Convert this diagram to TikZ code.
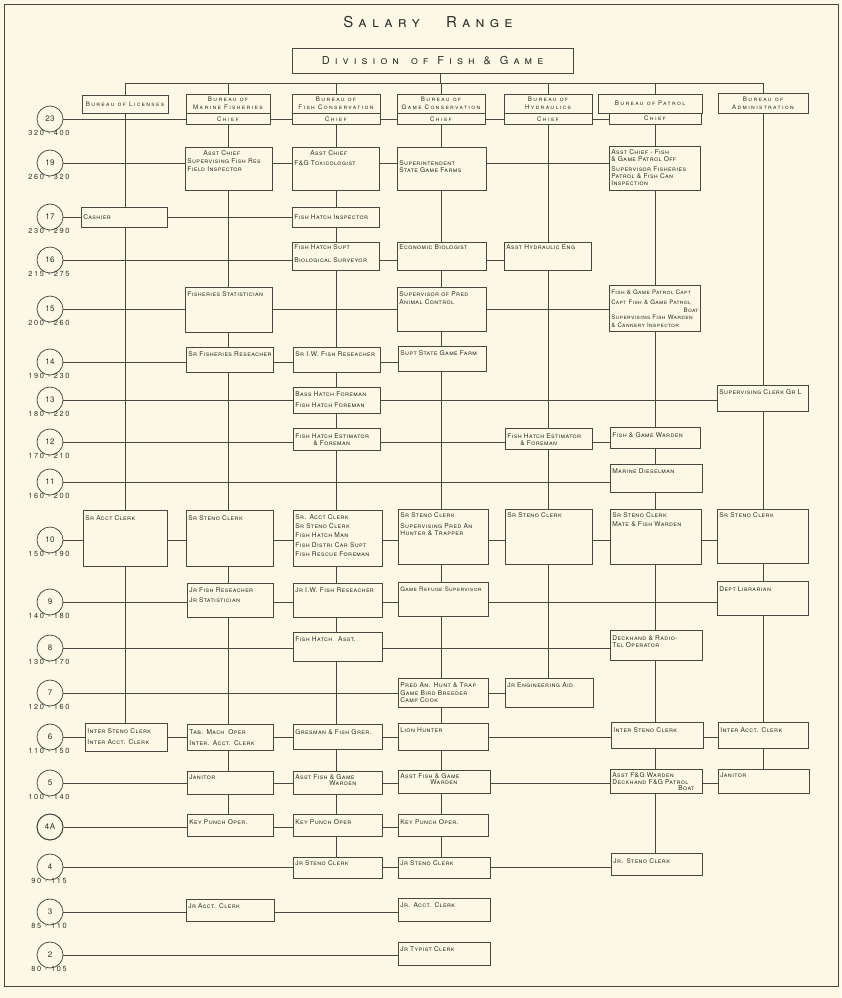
\documentclass[tikz,border=0pt]{standalone}
\usepackage{fontspec}
\setmainfont[LetterSpace=6]{TeX Gyre Heros}
\newfontfamily\headfont[LetterSpace=35]{TeX Gyre Heros}
\newfontfamily\divfont[LetterSpace=46]{TeX Gyre Heros}
\newfontfamily\burfont[LetterSpace=22]{TeX Gyre Heros}
\usetikzlibrary{positioning}

\definecolor{paper}{RGB}{251,249,229}
\definecolor{ink}{RGB}{72,72,64}
\definecolor{pencil}{RGB}{48,48,42}

\pgfdeclarelayer{sheet}
\pgfdeclarelayer{wires}
\pgfsetlayers{sheet,wires,main}

\tikzset{
  headline/.style={text=pencil, inner sep=0pt, font=\headfont\fontsize{15}{17}\selectfont\scshape},
  grade/.style={circle, draw=ink, line width=0.75pt, fill=paper, text=pencil,
    minimum size=26pt, inner sep=0pt, font=\fontsize{8}{9}\selectfont},
  rangetag/.style={text=pencil, inner sep=0pt, font=\burfont\fontsize{7.4}{8}\selectfont},
  bureau/.style={draw=ink, line width=0.7pt, fill=paper, text=pencil, align=center,
    inner sep=0pt, font=\burfont\fontsize{6.2}{7.8}\selectfont\scshape},
  job/.style={draw=ink, line width=0.7pt, fill=paper, text=pencil, align=left,
    inner xsep=2pt, inner ysep=0pt, font=\fontsize{6.6}{7}\selectfont\scshape},
  wire/.style={draw=ink, line width=0.5pt},
}

\begin{document}
\begin{tikzpicture}[x=1pt,y=-1pt]
  \useasboundingbox (0,0) rectangle (841,998);

  % title and division
  \node[headline] (title) at (428,22) {Salary\hspace{26pt}Range};
  \node[bureau, font=\divfont\fontsize{11}{12}\selectfont\scshape,
        minimum width=281pt, minimum height=25pt] (div) at (432.5,60.5)
        {Division\hspace{12pt}of\hspace{9pt}Fish\hspace{9pt}\&\hspace{9pt}Game};

  % bureaus
  \node[bureau, minimum width=86pt, minimum height=18pt] (lic) at (125,104) {Bureau of Licenses};
  \node[bureau, minimum width=84pt, minimum height=19pt] (mfb) at (228,103.5) {Bureau of\\Marine Fisheries};
  \node[bureau, minimum width=88pt, minimum height=19pt] (fcb) at (336,103.5) {Bureau of\\Fish Conservation};
  \node[bureau, minimum width=88pt, minimum height=19pt] (gcb) at (441,103.5) {Bureau of\\Game Conservation};
  \node[bureau, minimum width=88pt, minimum height=19pt] (hyb) at (548,103.5) {Bureau of\\Hydraulics};
  \node[bureau, minimum width=104pt, minimum height=19pt] (pab) at (650,103.5) {Bureau of Patrol};
  \node[bureau, minimum width=90pt, minimum height=20pt] (adm) at (763,103) {Bureau of\\Administration};

  \node[bureau, minimum width=84pt, minimum height=11pt, below=0pt of mfb] (mfc) {Chief};
  \node[bureau, minimum width=88pt, minimum height=11pt, below=0pt of fcb] (fcc) {Chief};
  \node[bureau, minimum width=88pt, minimum height=11pt, below=0pt of gcb] (gcc) {Chief};
  \node[bureau, minimum width=88pt, minimum height=11pt, below=0pt of hyb] (hyc) {Chief};
  \node[bureau, minimum width=92pt, minimum height=11pt] (pac) at (655,118.5) {Chief};

  % salary grades
  \foreach \g/\gy/\rng in {23/119/320 - 400, 19/163/260 - 320, 17/217/230 - 290,
      16/260/215 - 275, 15/309/200 - 260, 14/362/190 - 230, 13/400/180 - 220,
      12/442/170 - 210, 11/482/160 - 200, 10/540/150 - 190, 9/602/140 - 180,
      8/648/130 - 170, 7/693/120 - 160, 6/737/110 - 150, 5/783/100 - 140,
      4/867/90 - 115, 3/912/85 - 110, 2/955/80 - 105} {
    \node[grade] (g\g) at (50,\gy) {\g};
    \node[rangetag] (r\g) at (49,\gy+14) {\rng};
  }
  \node[grade, line width=1.1pt] (g4A) at (50,827) {4A};

  % positions: name/left/top/right/bottom/first baseline/text
  \foreach \nm/\xa/\ya/\xb/\yb/\ofs/\txt in {
      mf19/185/147/272/190/8.5/{\hspace*{16pt}Asst Chief\\[1pt]Supervising Fish Res\\[1pt]Field Inspector},
      fc19/292/147/379/190/8.5/{\hspace*{16pt}Asst Chief\\[3pt]F\&G Toxicologist},
      gc19/397/147/486/190/18.5/{Superintendent\\State Game Farms},
      pa19/609/146/700/190/8.5/{Asst Chief - Fish\\\& Game Patrol Off\\[3pt]Supervisor Fisheries\\Patrol \& Fish Can\\Inspection},
      li17/81/207/167/227/12.5/{Cashier},
      fc17/292/207/379/227/12.5/{Fish Hatch Inspector},
      fc16/292/242/379/270/7.5/{Fish Hatch Supt\\[5.5pt]Biological Surveyor},
      gc16/397/242/486/270/7.5/{Economic Biologist},
      hy16/504/242/591/270/7.5/{Asst Hydraulic Eng},
      mf15/185/287/272/332/8.8/{Fisheries Statistician},
      gc15/397/287/486/331/8.8/{Supervisor of Pred\\[1pt]Animal Control},
      pa15/609/285/700/331/9/{\fontsize{6.1}{7}\selectfont Fish \& Game Patrol Capt\\[3pt]Capt Fish \& Game Patrol\\[1pt]\mbox{}\hfill Boat\hspace*{12pt}\\Supervising Fish Warden\\[1pt]\& Cannery Inspector},
      mf14/186/347/273/372/9.5/{Sr Fisheries Reseacher},
      fc14/293/347/380/372/9.5/{Sr I.W. Fish Reseacher},
      gc14/398/346/486/371/9/{Supt State Game Farm},
      fc13/293/387/380/413/9.5/{Bass Hatch Foreman\\[4pt]Fish Hatch Foreman},
      ad13/717/385/808/411/9.5/{Supervising Clerk Gr L},
      fc12/293/428/380/450/10.5/{Fish Hatch Estimator\\\hspace*{18pt}\& Foreman},
      hy12/505/428/592/449/10.5/{Fish Hatch Estimator\\\hspace*{13pt}\& Foreman},
      pa12/610/427/700/448/10.5/{Fish \& Game Warden},
      pa11/610/464/702/492/9.5/{Marine Dieselman},
      li10/83/510/167/566/10/{Sr Acct Clerk},
      mf10/186/510/273/566/10/{Sr Steno Clerk},
      fc10/293/510/382/566/9/{Sr. Acct Clerk\\[2.3pt]Sr Steno Clerk\\[2.3pt]Fish Hatch Man\\[2.3pt]Fish Distri Car Supt\\[2.3pt]Fish Rescue Foreman},
      gc10/398/509/488/564/8.5/{Sr Steno Clerk\\[4pt]Supervising Pred An\\Hunter \& Trapper},
      hy10/505/509/592/564/8.5/{Sr Steno Clerk},
      pa10/610/509/701/564/8.5/{Sr Steno Clerk\\[2pt]Mate \& Fish Warden},
      ad10/717/509/808/563/8.5/{Sr Steno Clerk},
      mf9/187/583/273/617/9.5/{Jr Fish Reseacher\\[3pt]Jr Statistician},
      fc9/293/583/382/617/9.5/{Jr I.W. Fish Reseacher},
      gc9/398/582/488/616/9.5/{\fontsize{6.1}{7}\selectfont Game Refuge Supervisor},
      ad9/717/581/808/615/10/{Dept Librarian},
      fc8/293/632/382/661/9.5/{Fish Hatch\hspace{6pt}Asst.},
      pa8/610/630/702/660/10.5/{Deckhand \& Radio-\\Tel Operator},
      gc7/398/678/488/707/9.5/{Pred An. Hunt \& Trap\\[0.5pt]Game Bird Breeder\\[0.5pt]Camp Cook},
      hy7/505/678/593/707/9.5/{Jr Engineering Aid},
      li6/85/723/167/751/10/{Inter Steno Clerk\\[4pt]Inter Acct. Clerk},
      mf6/187/724/273/750/10/{Tab. Mach\hspace{4pt}Oper\\[4pt]Inter. Acct. Clerk},
      fc6/293/724/382/749/10/{Gresman \& Fish Grer.},
      gc6/398/723/488/750/9.5/{Lion Hunter},
      pa6/611/722/703/748/10/{Inter Steno Clerk},
      ad6/718/722/808/748/10/{Inter Acct. Clerk},
      mf5/187/771/273/794/8.5/{Janitor},
      fc5/293/771/382/794/8/{Asst Fish \& Game\\[-0.5pt]\hspace*{34pt}Warden},
      gc5/398/770/490/793/8/{Asst Fish \& Game\\[-0.5pt]\hspace*{30pt}Warden},
      pa5/610/769/702/793/8.5/{Asst F\&G Warden\\[-0.7pt]Deckhand F\&G Patrol\\[-0.7pt]\mbox{}\hfill Boat\hspace*{6pt}},
      ad5/718/769/809/793/8.5/{Janitor},
      mf4a/187/814/273/836/10/{Key Punch Oper.},
      fc4a/293/814/382/836/10/{Key Punch Oper},
      gc4a/398/814/488/836/10/{Key Punch Oper.},
      fc4/293/857/382/878/8/{Jr Steno Clerk},
      gc4/398/857/490/878/8/{Jr Steno Clerk},
      pa4/611/853/702/875/10/{Jr. Steno Clerk},
      mf3/186/899/274/921/9/{Jr Acct. Clerk},
      gc3/398/898/490/921/9/{Jr. Acct. Clerk},
      gc2/398/942/490/965/9/{Jr Typist Clerk}} {
    \pgfmathsetmacro\boxw{\xb-\xa-4}
    \pgfmathsetmacro\boxd{\yb-\ya-\ofs}
    \node[job, anchor=north west, text width=\boxw pt, text height=\ofs pt,
          text depth=\boxd pt] (\nm) at (\xa,\ya) {\txt};
  }

  \begin{pgfonlayer}{sheet}
    \fill[paper] (0,0) rectangle (841,998);
    \draw[ink, line width=0.8pt] (4,4) rectangle (838,986);
  \end{pgfonlayer}

  \begin{pgfonlayer}{wires}
    % division to bureaus
    \coordinate (bus) at (440,83);
    \draw[wire] (div.south -| bus) -- (bus);
    \draw[wire] (lic |- bus) -- (adm |- bus);
    \foreach \bu in {lic,mfb,fcb,gcb,hyb,adm}
      \draw[wire] (\bu |- bus) -- (\bu.north);
    \draw[wire] (pac |- bus) -- (pac |- pab.north);

    % columns
    \foreach \hi/\lo in {lic/li6, mfc/mf4a, fcc/fc4, gcc/gc4, hyc/hy7, pac/pa4, adm/ad5}
      \draw[wire] (\hi.south) -- (\hi.south |- \lo.north);

    % grade rows
    \foreach \g/\last in {23/pac, 19/pa19, 17/fc17, 16/hy16, 15/pa15, 14/gc14,
        13/ad13, 12/pa12, 11/pa11, 10/ad10, 9/ad9, 8/pa8, 7/hy7, 6/ad6, 5/ad5,
        4A/gc4a, 4/pa4, 3/gc3, 2/gc2}
      \draw[wire] (g\g.east) -- (g\g -| \last.west);
  \end{pgfonlayer}
\end{tikzpicture}
\end{document}
